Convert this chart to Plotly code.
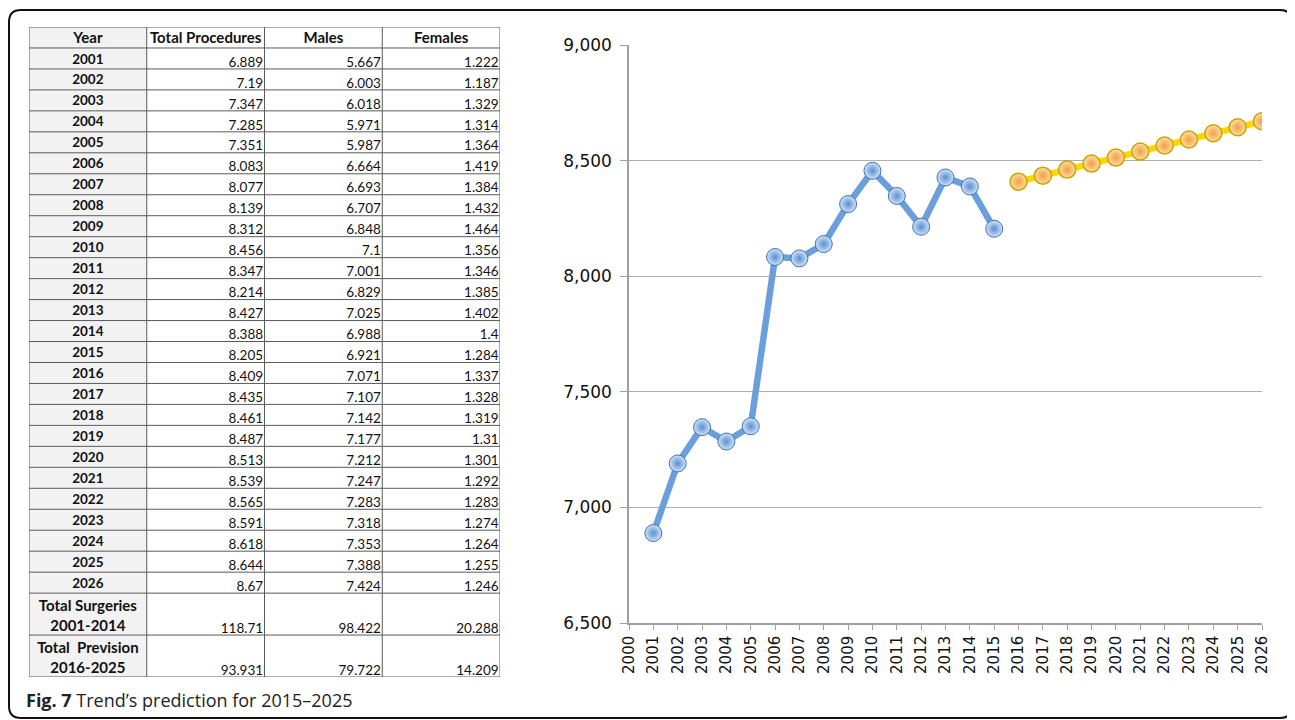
import plotly.graph_objects as go

# page body adds an 8px margin: the figure is placed 8px in from the top-left corner
OX, OY = 8, 8
W, H = 1287, 712

# ---------------- data ----------------
years_obs = [2001, 2002, 2003, 2004, 2005, 2006, 2007, 2008, 2009, 2010, 2011, 2012, 2013, 2014, 2015]
total_obs = [6889, 7190, 7347, 7285, 7351, 8083, 8077, 8139, 8312, 8456, 8347, 8214, 8427, 8388, 8205]
years_pred = [2016, 2017, 2018, 2019, 2020, 2021, 2022, 2023, 2024, 2025, 2026]
total_pred = [8409, 8435, 8461, 8487, 8513, 8539, 8565, 8591, 8618, 8644, 8670]

table_years = [str(y) for y in range(2001, 2027)]
table_total = ["6.889", "7.19", "7.347", "7.285", "7.351", "8.083", "8.077", "8.139", "8.312", "8.456",
               "8.347", "8.214", "8.427", "8.388", "8.205", "8.409", "8.435", "8.461", "8.487", "8.513",
               "8.539", "8.565", "8.591", "8.618", "8.644", "8.67"]
table_males = ["5.667", "6.003", "6.018", "5.971", "5.987", "6.664", "6.693", "6.707", "6.848", "7.1",
               "7.001", "6.829", "7.025", "6.988", "6.921", "7.071", "7.107", "7.142", "7.177", "7.212",
               "7.247", "7.283", "7.318", "7.353", "7.388", "7.424"]
table_females = ["1.222", "1.187", "1.329", "1.314", "1.364", "1.419", "1.384", "1.432", "1.464", "1.356",
                 "1.346", "1.385", "1.402", "1.4", "1.284", "1.337", "1.328", "1.319", "1.31", "1.301",
                 "1.292", "1.283", "1.274", "1.264", "1.255", "1.246"]
total_labels = ["Total Surgeries<br>2001-2014", "Total  Prevision<br>2016-2025"]
total_total = ["118.71", "93.931"]
total_males = ["98.422", "79.722"]
total_females = ["20.288", "14.209"]
headers = ["Year", "Total Procedures", "Males", "Females"]
x_ticks = list(range(2000, 2027))
y_ticks = [6500, 7000, 7500, 8000, 8500, 9000]


def px(x):
    return (x - OX) / W


def py(y):
    return 1 - (y - OY) / H


fig = go.Figure()

# ---------------- table (drawn on its own hidden axes: x = column units, y = row units) -------------
row_h = [1] + [1] * len(table_years) + [2] * len(total_labels)   # header, year rows, total rows
row_top = []
acc = 0
for h in row_h:
    row_top.append(acc)
    acc += h
n_units = acc
n_cols = len(headers)
TXT = dict(family="Lato", size=13.5, color="#111111")
TXT_B = dict(family="Lato", size=15, color="#111111")
PAD = 0.012

# year column fill
fig.add_shape(type="rect", xref="x2", yref="y2", x0=0, x1=1, y0=0, y1=n_units,
              fillcolor="#f2f2f2", line=dict(width=0), layer="below")

# grid lines
gx, gy = [], []
for t in row_top + [n_units]:
    gx += [0, n_cols, None]
    gy += [t, t, None]
for c in range(n_cols + 1):
    gx += [c, c, None]
    gy += [0, n_units, None]
fig.add_trace(go.Scatter(x=gx, y=gy, mode="lines", line=dict(color="#5a5a5a", width=1),
                         xaxis="x2", yaxis="y2", showlegend=False, hoverinfo="skip"))

# header texts
fig.add_trace(go.Scatter(x=[c + 0.5 for c in range(n_cols)], y=[0.6] * n_cols,
                         text=["<b>%s</b>" % h for h in headers], mode="text",
                         textposition="middle center", textfont=TXT_B,
                         xaxis="x2", yaxis="y2", showlegend=False, hoverinfo="skip"))
# year labels
yr_rows = [row_top[i + 1] + 0.5 for i in range(len(table_years))]
fig.add_trace(go.Scatter(x=[0.5] * len(table_years), y=[r + 0.08 for r in yr_rows],
                         text=["<b>%s</b>" % y for y in table_years], mode="text",
                         textposition="middle center", textfont=TXT,
                         xaxis="x2", yaxis="y2", showlegend=False, hoverinfo="skip"))
tot_idx = [1 + len(table_years) + k for k in range(len(total_labels))]
fig.add_trace(go.Scatter(x=[0.5] * len(total_labels), y=[row_top[i] + row_h[i] / 2 + 0.15 for i in tot_idx],
                         text=["<b>%s</b>" % t for t in total_labels], mode="text",
                         textposition="middle center", textfont=TXT_B,
                         xaxis="x2", yaxis="y2", showlegend=False, hoverinfo="skip"))
# numeric columns, right aligned, bottom of the cell
for c, (vals, tots) in enumerate([(table_total, total_total), (table_males, total_males),
                                  (table_females, total_females)], start=1):
    fig.add_trace(go.Scatter(x=[c + 1 - PAD] * len(vals), y=[r + 0.55 for r in yr_rows],
                             text=vals, mode="text", textposition="top left", textfont=TXT,
                             xaxis="x2", yaxis="y2", showlegend=False, hoverinfo="skip"))
    fig.add_trace(go.Scatter(x=[c + 1 - PAD] * len(tots), y=[row_top[i] + row_h[i] + 0.05 for i in tot_idx],
                             text=tots, mode="text", textposition="top left", textfont=TXT,
                             xaxis="x2", yaxis="y2", showlegend=False, hoverinfo="skip"))

# ---------------- chart ----------------
fig.add_trace(go.Scatter(
    x=years_obs, y=total_obs, mode="lines+markers",
    line=dict(color="#6a9fdc", width=6.5),
    marker=dict(size=17, color="#cfe2f8", line=dict(color="#3f72b0", width=1),
                gradient=dict(type="radial", color="#5b8fd0")),
    showlegend=False, hoverinfo="x+y",
))
fig.add_trace(go.Scatter(
    x=years_pred, y=total_pred, mode="lines+markers",
    line=dict(color="#ffd700", width=6.5),
    marker=dict(size=17, color="#ffdca8", line=dict(color="#c9a400", width=1.5),
                gradient=dict(type="radial", color="#f0a040")),
    showlegend=False, hoverinfo="x+y",
))

fig.update_layout(
    xaxis=dict(
        domain=[px(629), px(1262)], range=[2000, 2026], automargin=False,
        tickmode="array", tickvals=x_ticks, ticktext=[str(v) for v in x_ticks],
        tickangle=-90, ticks="outside", ticklen=5, tickcolor="#a0a0a0",
        showline=True, linecolor="#a0a0a0", linewidth=1.5, showgrid=False, zeroline=False,
        tickfont=dict(family="DejaVu Sans", size=15, color="#111111"),
    ),
    yaxis=dict(
        domain=[py(623), py(45)], range=[6500, 9000], automargin=False,
        tickmode="array", tickvals=y_ticks, ticktext=["{:,}".format(v) for v in y_ticks],
        ticks="outside", ticklen=7, tickcolor="#a0a0a0", ticklabelstandoff=5,
        showline=True, linecolor="#a0a0a0", linewidth=1.5,
        showgrid=True, gridcolor="#b0b0b0", gridwidth=1.2, zeroline=False,
        tickfont=dict(family="DejaVu Sans", size=17, color="#111111"),
    ),
    xaxis2=dict(domain=[px(29), px(500)], range=[0, n_cols], visible=False, automargin=False,
                anchor="y2", fixedrange=True),
    yaxis2=dict(domain=[py(677), py(27)], range=[n_units, 0], visible=False, automargin=False,
                anchor="x2", fixedrange=True),
)

# rounded frame
x0, x1, y0, y1, r = 9, 1292, 10, 718, 12
path = (f"M {px(x0)},{py(y0 + r)} Q {px(x0)},{py(y0)} {px(x0 + r)},{py(y0)} "
        f"L {px(x1 - r)},{py(y0)} Q {px(x1)},{py(y0)} {px(x1)},{py(y0 + r)} "
        f"L {px(x1)},{py(y1 - r)} Q {px(x1)},{py(y1)} {px(x1 - r)},{py(y1)} "
        f"L {px(x0 + r)},{py(y1)} Q {px(x0)},{py(y1)} {px(x0)},{py(y1 - r)} Z")
fig.add_shape(type="path", path=path, xref="paper", yref="paper",
              line=dict(color="#111111", width=2), layer="above")

fig.add_annotation(
    x=px(24), y=py(700), xref="paper", yref="paper", xanchor="left", yanchor="middle",
    text="<b>Fig. 7</b> Trend’s prediction for 2015–2025", showarrow=False,
    font=dict(family="Open Sans", size=18, color="#222222"),
)

fig.update_layout(
    width=W, height=H, margin=dict(l=0, r=0, t=0, b=0, pad=0, autoexpand=False),
    paper_bgcolor="white", plot_bgcolor="white", template="none",
)

fig.write_html("out.html")
